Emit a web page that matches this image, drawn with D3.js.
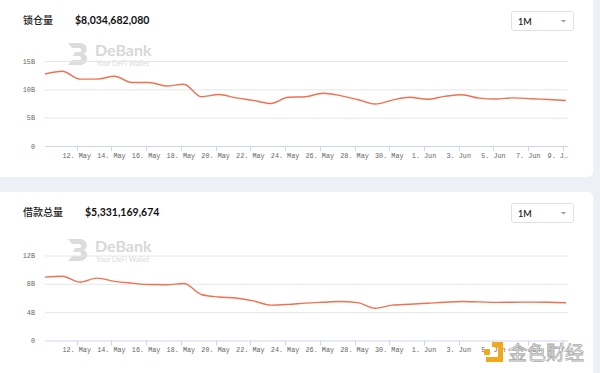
<!DOCTYPE html>
<html>
<head>
<meta charset="utf-8">
<script src="https://cdn.jsdelivr.net/npm/d3@7"></script>
<style>
  html, body { margin: 0; padding: 0; background: #eef0f5; }
  svg { display: block; }
</style>
</head>
<body>
<div id="chart"></div>
<script>
// daily values, 10 May -> 9 Jun, in billions USD
const tvlValues = [12.7, 13.2, 11.8, 11.8, 12.3, 11.2, 11.2, 10.6, 10.9, 8.7,
  9.1, 8.5, 8.05, 7.5, 8.6, 8.7, 9.3, 8.9, 8.2, 7.4,
  8.1, 8.6, 8.25, 8.75, 9.05, 8.45, 8.3, 8.5, 8.35, 8.2, 8.03];
const borrowValues = [8.94, 9.08, 8.24, 8.8, 8.35, 8.1, 7.9, 7.88, 8.05, 6.5,
  6.15, 6.0, 5.6, 5.0, 5.1, 5.28, 5.4, 5.5, 5.35, 4.55,
  5.0, 5.12, 5.25, 5.4, 5.5, 5.45, 5.38, 5.4, 5.42, 5.4, 5.33];

const tickLabels = ["12. May", "14. May", "16. May", "18. May", "20. May", "22. May", "24. May",
  "26. May", "28. May", "30. May", "1. Jun", "3. Jun", "5. Jun", "7. Jun", "9. J…"];

const tvlTicks = [0, 5, 10, 15];
const borrowTicks = [0, 4, 8, 12];

const width = 600, height = 373;
const svg = d3.select("#chart").append("svg")
  .attr("width", width)
  .attr("height", height);

svg.append("rect").attr("width", width).attr("height", height).attr("fill", "#eef0f5");

const start = new Date(2021, 4, 10, 4, 12);
const end = new Date(2021, 5, 9, 7, 0);
const dates = tvlValues.map((v, i) => d3.timeDay.offset(start, i));
const tickDates = tickLabels.map((t, i) => d3.timeDay.offset(new Date(2021, 4, 12), i * 2));

const x = d3.scaleTime().domain([start, end]).range([45, 568]);

function drawPanel(opts) {
  let g = svg.append("g").attr("transform", "translate(0," + opts.top + ")");

  g.append("rect")
    .attr("x", -6).attr("y", opts.panelY).attr("width", 599).attr("height", opts.panelH)
    .attr("rx", 5).attr("fill", "#fff");

  // header
  g.append("text").attr("x", 23).attr("y", 24)
    .attr("font-family", "'Noto Sans CJK SC', 'Noto Sans', sans-serif")
    .attr("font-size", 10).attr("font-weight", 500).attr("fill", "#222")
    .text(opts.title);
  g.append("text").attr("x", opts.valueX).attr("y", 24)
    .attr("font-family", "Lato, sans-serif")
    .attr("font-size", 10.5).attr("font-weight", 700).attr("fill", "#111")
    .text(opts.value);

  // range selector
  g.append("rect").attr("x", 511.5).attr("y", 11.5).attr("width", 62).attr("height", 19)
    .attr("rx", 2).attr("fill", "#fff").attr("stroke", "#dfe1e6");
  g.append("text").attr("x", 518).attr("y", 24.5)
    .attr("font-family", "Lato, sans-serif").attr("font-size", 9).attr("font-weight", 600)
    .attr("fill", "#222").text("1M");
  g.append("path").attr("d", "M561,20 L566,20 L563.5,22.5 Z").attr("fill", "#999");

  // watermark
  let wm = g.append("g").attr("transform", "translate(0," + opts.wmY + ")");
  wm.append("path")
    .attr("d", "M68,0 H80 C88,0 89,10 83,11 C90,12 88,22 80,22 H68 L72,17 H79 C82,17 82,13 79,13 H73 L75,9 H79 C82,9 82,5 79,5 H72 Z")
    .attr("fill", "#dcdcdc");
  wm.append("text").attr("x", 95).attr("y", 13)
    .attr("font-family", "Lato, sans-serif").attr("font-size", 16).attr("font-weight", 700)
    .attr("fill", "#d8d8d8").text("DeBank");
  wm.append("text").attr("x", 96).attr("y", 22.5)
    .attr("font-family", "Lato, sans-serif").attr("font-size", 7.2)
    .attr("fill", "#dadada").text("Your DeFi Wallet");

  let y = d3.scaleLinear().domain([0, opts.yMax]).range([opts.y0, opts.yTop]);

  // grid
  g.append("g").selectAll("line").data(opts.yTicks.slice(1)).enter().append("line")
    .attr("x1", 45).attr("x2", 568)
    .attr("y1", d => y(d) + 0.5).attr("y2", d => y(d) + 0.5)
    .attr("stroke", "#e6e6e6");

  g.append("g").selectAll("text").data(opts.yTicks).enter().append("text")
    .attr("x", 35).attr("y", d => y(d) + 2.5)
    .attr("text-anchor", "end")
    .attr("font-family", "'Liberation Mono', monospace").attr("font-size", 6.8)
    .attr("fill", "#666")
    .text(d => d === 0 ? "0" : d + "B");

  // x axis
  g.append("line").attr("x1", 45).attr("x2", 568)
    .attr("y1", y(0) + 0.5).attr("y2", y(0) + 0.5).attr("stroke", "#ccd6eb");
  g.append("g").selectAll("line").data(tickDates).enter().append("line")
    .attr("x1", d => Math.round(x(d)) + 0.5).attr("x2", d => Math.round(x(d)) + 0.5)
    .attr("y1", y(0)).attr("y2", y(0) + 5)
    .attr("stroke", "#ccd6eb");
  g.append("g").selectAll("text").data(tickDates).enter().append("text")
    .attr("x", (d, i) => i === tickDates.length - 1 ? 568 : x(d))
    .attr("y", y(0) + 11.5)
    .attr("text-anchor", (d, i) => i === tickDates.length - 1 ? "end" : "middle")
    .attr("font-family", "'Liberation Mono', monospace").attr("font-size", 6.8)
    .attr("fill", "#666")
    .text((d, i) => tickLabels[i]);

  let line = d3.line()
    .x((d, i) => x(dates[i]))
    .y(d => y(d))
    .curve(d3.curveMonotoneX);

  g.append("path").datum(opts.values)
    .attr("d", line)
    .attr("fill", "none")
    .attr("stroke", "#f1704f")
    .attr("stroke-width", 1.4);
}

drawPanel({
  top: 0, panelY: -10, panelH: 187,
  title: "锁仓量", value: "$8,034,682,080", valueX: 75,
  values: tvlValues, yTicks: tvlTicks, yMax: 15,
  y0: 146, yTop: 61, wmY: 43
});

drawPanel({
  top: 192, panelY: 0, panelH: 190,
  title: "借款总量", value: "$5,331,169,674", valueX: 85,
  values: borrowValues, yTicks: borrowTicks, yMax: 12,
  y0: 148.5, yTop: 63.5, wmY: 47
});

// bottom-right watermark
let jw = svg.append("g");
jw.append("rect").attr("x", 484).attr("y", 349).attr("width", 6).attr("height", 6).attr("rx", 1).attr("fill", "#f3a81c");
jw.append("path").attr("d", "M492,342 H503 V362 H486 V357 H498 V347 H492 Z").attr("fill", "#f3a81c");
jw.append("text").attr("x", 508).attr("y", 360)
  .attr("font-family", "'Noto Sans CJK SC', sans-serif").attr("font-size", 19)
  .attr("fill", "#fff").attr("stroke", "#aaa").attr("stroke-width", 0.8)
  .text("金色财经");
</script>
</body>
</html>
